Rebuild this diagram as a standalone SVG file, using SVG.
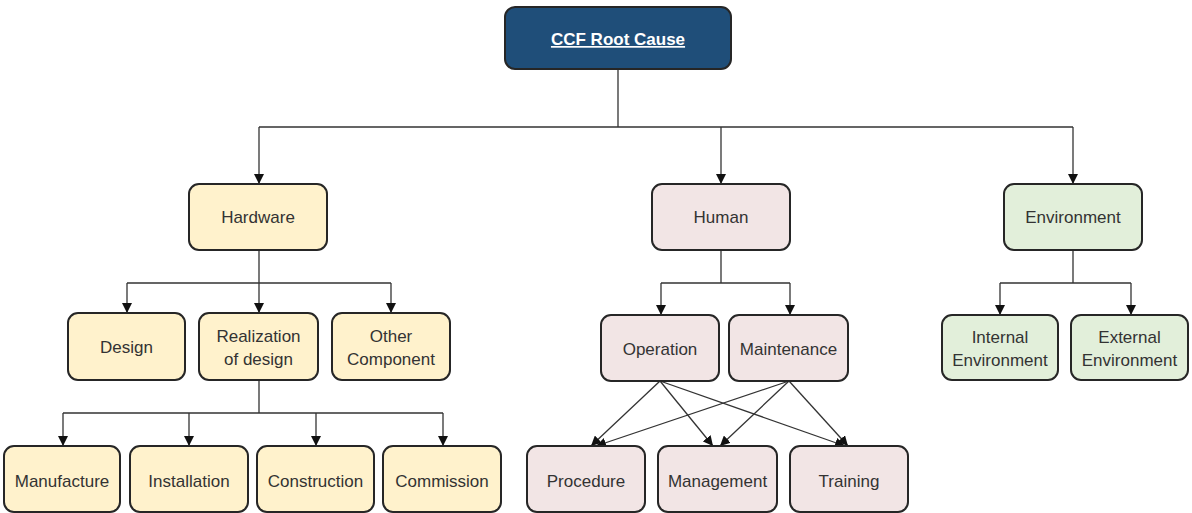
<svg xmlns="http://www.w3.org/2000/svg" width="1192" height="513" viewBox="0 0 1192 513">
  <defs>
    <marker id="arrow" viewBox="0 0 10 10" refX="10" refY="5" markerWidth="10" markerHeight="10" markerUnits="userSpaceOnUse" orient="auto">
      <path d="M0,0 L10,5 L0,10 Z" fill="#111"/>
    </marker>
    <style>
      .box { stroke: #262626; stroke-width: 2; }
      .hw { fill: #fff2cc; }
      .hu { fill: #f2e5e5; }
      .en { fill: #e2efda; }
      .root { fill: #1f4e79; }
      .lbl { font-family: "Liberation Sans", Arial, sans-serif; font-size: 17px; fill: #333; text-anchor: middle; }
      .rootlbl { font-family: "Liberation Sans", Arial, sans-serif; font-size: 17px; font-weight: bold; fill: #fff; text-anchor: middle; text-decoration: underline; }
      .conn { fill: none; stroke: #333; stroke-width: 1.3; }
    </style>
  </defs>
  <rect width="1192" height="513" fill="#fff"/>

  <g id="connectors">
    <!-- root to level 1 -->
    <path class="conn" d="M618,69 V127 M259,127 H1073"/>
    <path class="conn" d="M259,127 V184" marker-end="url(#arrow)"/>
    <path class="conn" d="M721,127 V184" marker-end="url(#arrow)"/>
    <path class="conn" d="M1073,127 V184" marker-end="url(#arrow)"/>
    <!-- hardware -->
    <path class="conn" d="M259,250 V283 M127,283 H391"/>
    <path class="conn" d="M127,283 V313" marker-end="url(#arrow)"/>
    <path class="conn" d="M259,283 V313" marker-end="url(#arrow)"/>
    <path class="conn" d="M391,283 V313" marker-end="url(#arrow)"/>
    <!-- realization of design -->
    <path class="conn" d="M259,380 V413 M63,413 H443"/>
    <path class="conn" d="M63,413 V446" marker-end="url(#arrow)"/>
    <path class="conn" d="M189,413 V446" marker-end="url(#arrow)"/>
    <path class="conn" d="M316,413 V446" marker-end="url(#arrow)"/>
    <path class="conn" d="M443,413 V446" marker-end="url(#arrow)"/>
    <!-- human -->
    <path class="conn" d="M721,250 V283 M661,283 H790"/>
    <path class="conn" d="M661,283 V315" marker-end="url(#arrow)"/>
    <path class="conn" d="M790,283 V315" marker-end="url(#arrow)"/>
    <path class="conn" d="M660,381 L591,446" marker-end="url(#arrow)"/>
    <path class="conn" d="M660,381 L713,446" marker-end="url(#arrow)"/>
    <path class="conn" d="M660,381 L845,446" marker-end="url(#arrow)"/>
    <path class="conn" d="M789,381 L596,446" marker-end="url(#arrow)"/>
    <path class="conn" d="M789,381 L720,446" marker-end="url(#arrow)"/>
    <path class="conn" d="M789,381 L848,446" marker-end="url(#arrow)"/>
    <!-- environment -->
    <path class="conn" d="M1073,250 V283 M1000,283 H1131"/>
    <path class="conn" d="M1000,283 V315" marker-end="url(#arrow)"/>
    <path class="conn" d="M1131,283 V315" marker-end="url(#arrow)"/>
  </g>

  <g id="root">
    <rect class="box root" x="505" y="7" width="226" height="62" rx="10"/>
    <text class="rootlbl" x="618" y="45">CCF Root Cause</text>
  </g>

  <g id="hardware">
    <rect class="box hw" x="189" y="184" width="138" height="66" rx="10"/>
    <text class="lbl" x="258" y="223">Hardware</text>
  </g>
  <g id="human">
    <rect class="box hu" x="652" y="184" width="138" height="66" rx="10"/>
    <text class="lbl" x="721" y="223">Human</text>
  </g>
  <g id="environment">
    <rect class="box en" x="1004" y="184" width="138" height="66" rx="10"/>
    <text class="lbl" x="1073" y="223">Environment</text>
  </g>

  <g id="design">
    <rect class="box hw" x="68" y="313" width="117" height="67" rx="10"/>
    <text class="lbl" x="126.5" y="353">Design</text>
  </g>
  <g id="realization">
    <rect class="box hw" x="199" y="313" width="119" height="67" rx="10"/>
    <text class="lbl" x="258.5" y="342">Realization</text>
    <text class="lbl" x="258.5" y="365">of design</text>
  </g>
  <g id="other-component">
    <rect class="box hw" x="332" y="313" width="118" height="67" rx="10"/>
    <text class="lbl" x="391" y="342">Other</text>
    <text class="lbl" x="391" y="365">Component</text>
  </g>

  <g id="manufacture">
    <rect class="box hw" x="4" y="446" width="116" height="66" rx="10"/>
    <text class="lbl" x="62" y="487">Manufacture</text>
  </g>
  <g id="installation">
    <rect class="box hw" x="130" y="446" width="118" height="66" rx="10"/>
    <text class="lbl" x="189" y="487">Installation</text>
  </g>
  <g id="construction">
    <rect class="box hw" x="257" y="446" width="117" height="66" rx="10"/>
    <text class="lbl" x="315.5" y="487">Construction</text>
  </g>
  <g id="commission">
    <rect class="box hw" x="383" y="446" width="118" height="66" rx="10"/>
    <text class="lbl" x="442" y="487">Commission</text>
  </g>

  <g id="operation">
    <rect class="box hu" x="601" y="315" width="118" height="66" rx="10"/>
    <text class="lbl" x="660" y="355">Operation</text>
  </g>
  <g id="maintenance">
    <rect class="box hu" x="729" y="315" width="119" height="66" rx="10"/>
    <text class="lbl" x="788.5" y="355">Maintenance</text>
  </g>

  <g id="procedure">
    <rect class="box hu" x="527" y="446" width="118" height="66" rx="10"/>
    <text class="lbl" x="586" y="487">Procedure</text>
  </g>
  <g id="management">
    <rect class="box hu" x="658" y="446" width="119" height="66" rx="10"/>
    <text class="lbl" x="717.5" y="487">Management</text>
  </g>
  <g id="training">
    <rect class="box hu" x="790" y="446" width="118" height="66" rx="10"/>
    <text class="lbl" x="849" y="487">Training</text>
  </g>

  <g id="internal-environment">
    <rect class="box en" x="942" y="315" width="116" height="65" rx="10"/>
    <text class="lbl" x="1000" y="343">Internal</text>
    <text class="lbl" x="1000" y="366">Environment</text>
  </g>
  <g id="external-environment">
    <rect class="box en" x="1071" y="315" width="117" height="65" rx="10"/>
    <text class="lbl" x="1129.5" y="343">External</text>
    <text class="lbl" x="1129.5" y="366">Environment</text>
  </g>
</svg>
